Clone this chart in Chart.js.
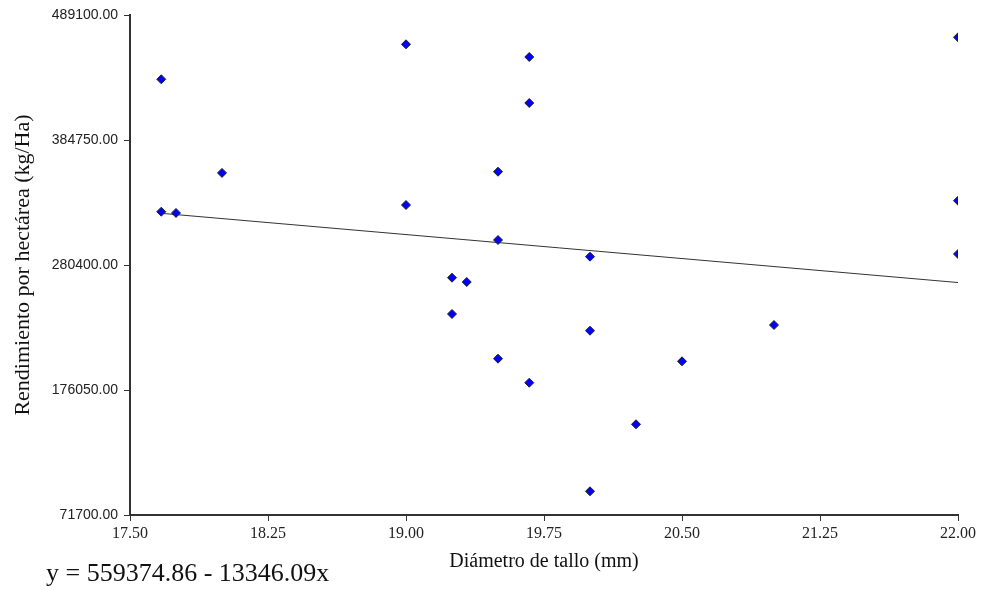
<!DOCTYPE html>
<html>
<head>
<meta charset="utf-8">
<script src="https://cdn.jsdelivr.net/npm/chart.js@4.4.0/dist/chart.umd.min.js"></script>
<style>
  html, body { margin: 0; padding: 0; background: #fff; }
  #wrap { position: relative; width: 981px; height: 590px; }
  #equation {
    position: absolute; left: 46px; top: 560px;
    font-family: "Liberation Serif", serif; font-size: 26px; color: #111;
    white-space: nowrap; line-height: 1;
  }
</style>
</head>
<body>
<div id="wrap">
  <canvas id="scatterChart" width="981" height="590"></canvas>
  <div id="equation">y = 559374.86 - 13346.09x</div>
</div>
<script>
// Diámetro de tallo (mm) vs rendimiento (kg/Ha)
const diametro = [17.67, 17.67, 17.75, 18.00, 19.00, 19.00, 19.25, 19.25, 19.33, 19.50, 19.50, 19.50,
                  19.67, 19.67, 19.67, 20.00, 20.00, 20.00, 20.25, 20.50, 21.00, 22.00, 22.00, 22.00];
const rendimiento = [435420, 324900, 323810, 357300, 464640, 330490, 269800, 239500, 266210, 358290, 301270, 202180,
                     454040, 415640, 182140, 287330, 225560, 91480, 147410, 200010, 230310, 470480, 334080, 289580];

// fitted line, end points
const lineX = [17.67, 22.00];
const lineY = [323550, 265760];

const xTicks = [17.50, 18.25, 19.00, 19.75, 20.50, 21.25, 22.00];
const yTicks = [71700, 176050, 280400, 384750, 489100];

const points = diametro.map((d, i) => ({ x: d, y: rendimiento[i] }));
const fitLine = lineX.map((d, i) => ({ x: d, y: lineY[i] }));

const ctx = document.getElementById('scatterChart').getContext('2d');
const chart = new Chart(ctx, {
    type: 'scatter',
    data: {
        datasets: [
            {
                type: 'line',
                data: fitLine,
                borderColor: '#333',
                borderWidth: 1,
                pointRadius: 0,
                fill: false,
                order: 2,
            },
            {
                data: points,
                pointStyle: 'rectRot',
                pointRadius: 4.5,
                backgroundColor: '#0000ff',
                borderColor: '#222',
                borderWidth: 1,
                order: 1,
            },
        ],
    },
    options: {
        responsive: false,
        animation: false,
        layout: { padding: { top: 15, right: 23, left: 0, bottom: 0 } },
        plugins: {
            legend: { display: false },
            tooltip: { enabled: false },
        },
        scales: {
            x: {
                type: 'linear',
                min: 17.5,
                max: 22,
                afterBuildTicks: s => { s.ticks = xTicks.map(v => ({ value: v })); },
                afterFit: s => { s.height = 75; },
                grid: { drawOnChartArea: false, tickLength: 6, color: '#333', lineWidth: 1 },
                border: { color: '#333', width: 2 },
                ticks: {
                    color: '#222',
                    padding: 3,
                    maxRotation: 0,
                    font: { family: 'Liberation Serif', size: 16 },
                    callback: v => Number(v).toFixed(2),
                },
                title: {
                    display: true,
                    text: 'Diámetro de tallo (mm)',
                    color: '#111',
                    font: { family: 'Liberation Serif', size: 20 },
                    padding: { top: 0, bottom: 16 },
                },
            },
            y: {
                type: 'linear',
                min: 71700,
                max: 489100,
                afterBuildTicks: s => { s.ticks = yTicks.map(v => ({ value: v })); },
                afterFit: s => { s.width = 130; },
                grid: { drawOnChartArea: false, tickLength: 6, color: '#333', lineWidth: 1 },
                border: { color: '#333', width: 2 },
                ticks: {
                    color: '#222',
                    padding: 6,
                    font: { family: 'Liberation Sans', size: 14 },
                    callback: v => Number(v).toFixed(2),
                },
                title: {
                    display: true,
                    text: 'Rendimiento por hectárea (kg/Ha)',
                    color: '#111',
                    font: { family: 'Liberation Serif', size: 22 },
                    padding: { top: 10, bottom: 0 },
                },
            },
        },
    },
});
</script>
</body>
</html>
